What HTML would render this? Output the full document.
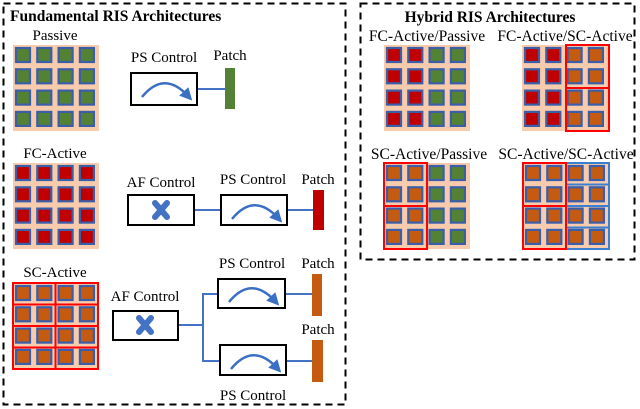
<!DOCTYPE html>
<html><head><meta charset="utf-8"><style>
html,body{margin:0;padding:0;background:#fff;width:640px;height:409px;overflow:hidden}
svg{display:block}
text{font-family:"Liberation Serif",serif;font-size:15px;fill:#000}
</style></head><body>
<svg id="s" width="640" height="409" xmlns="http://www.w3.org/2000/svg">
<defs>
<marker id="ah" markerWidth="5" markerHeight="5" refX="2.5" refY="2.5" orient="auto"><path d="M0,0 L5,2.5 L0,5z" fill="#3b6fc4"/></marker>
</defs>
<rect x="3.5" y="3.5" width="342" height="401" fill="none" stroke="#000" stroke-width="2" stroke-dasharray="7,5"/>
<rect x="360.5" y="3.5" width="274" height="256" fill="none" stroke="#000" stroke-width="2" stroke-dasharray="7,5"/>
<text x="10" y="21" font-weight="bold" style="font-size:15.5px">Fundamental RIS Architectures</text>
<text x="490" y="22" font-weight="bold" text-anchor="middle" style="font-size:15.5px">Hybrid RIS Architectures</text>
<text x="55" y="40" text-anchor="middle">Passive</text>
<text x="55" y="158" text-anchor="middle">FC-Active</text>
<text x="55" y="277" text-anchor="middle">SC-Active</text>
<text x="164" y="62" text-anchor="middle">PS Control</text>
<text x="230" y="60" text-anchor="middle">Patch</text>
<text x="161" y="187" text-anchor="middle">AF Control</text>
<text x="253" y="184" text-anchor="middle">PS Control</text>
<text x="318" y="184" text-anchor="middle">Patch</text>
<text x="145" y="301" text-anchor="middle">AF Control</text>
<text x="252" y="268" text-anchor="middle">PS Control</text>
<text x="318" y="268" text-anchor="middle">Patch</text>
<text x="318" y="334" text-anchor="middle">Patch</text>
<text x="253" y="400" text-anchor="middle">PS Control</text>
<text x="427" y="41" text-anchor="middle" style="font-size:15.5px">FC-Active/Passive</text>
<text x="565" y="41" text-anchor="middle" style="font-size:15.5px">FC-Active/SC-Active</text>
<text x="429" y="159" text-anchor="middle" style="font-size:15.5px">SC-Active/Passive</text>
<text x="566" y="159" text-anchor="middle" style="font-size:15.5px">SC-Active/SC-Active</text>
<g id="g"></g>
<g stroke="#4472c4" stroke-width="2" fill="none">
<line x1="197" y1="89" x2="225" y2="89"/>
<line x1="194" y1="210" x2="221" y2="210"/>
<line x1="287" y1="210" x2="313" y2="210"/>
<polyline points="178,325 203,325"/>
<polyline points="218,294 203,294 203,361 220,361"/>
<line x1="285" y1="294" x2="312" y2="294"/>
<line x1="286" y1="361" x2="312" y2="361"/>
</g>
<g stroke="#000" stroke-width="2" fill="#fff">
<rect x="131" y="73" width="66" height="32"/>
<rect x="128" y="195" width="66" height="30"/>
<rect x="221" y="195" width="66" height="30"/>
<rect x="113" y="311" width="65" height="29"/>
<rect x="218" y="279" width="67" height="29"/>
<rect x="220" y="345" width="66" height="30"/>
</g>
<rect x="225" y="68" width="10" height="41" fill="#548235"/>
<rect x="313" y="190" width="11" height="40" fill="#c00000"/>
<rect x="312" y="274" width="10" height="42" fill="#c55a11"/>
<rect x="312" y="340" width="11" height="42" fill="#c55a11"/>
<g fill="none" stroke="#3b6fc4" stroke-width="2.5">
<path d="M142,97 Q164,70 188,96" marker-end="url(#ah)"/>
<path d="M232,219 Q254,192 278,218" marker-end="url(#ah)"/>
<path d="M229,302 Q251,275 275,301" marker-end="url(#ah)"/>
<path d="M231,369 Q253,342 277,368" marker-end="url(#ah)"/>
</g>
<g stroke="#4472c4" stroke-width="6" stroke-linecap="round">
<line x1="155" y1="203" x2="167" y2="217"/><line x1="167" y1="203" x2="155" y2="217"/>
<line x1="139" y1="318" x2="151" y2="332"/><line x1="151" y1="318" x2="139" y2="332"/>
</g>
</svg>
<script>
var G='#548235',R='#c00000',O='#c55a11',g=document.getElementById('g'),h='';
function grid(x,y,cols){h+='<rect x="'+x+'" y="'+y+'" width="86" height="86" fill="#f8cbad"/>';
for(var r=0;r<4;r++)for(var c=0;c<4;c++){var cx=x+3+c*21.3,cy=y+3+r*21.3;
h+='<rect x="'+cx+'" y="'+cy+'" width="14" height="14" fill="'+cols[c]+'" stroke="#3b5ea8" stroke-width="2.2"/>';}}
function box(x,y,w,hh,col){h+='<rect x="'+x+'" y="'+y+'" width="'+w+'" height="'+hh+'" fill="none" stroke="'+col+'" stroke-width="2"/>';}
grid(13,45,[G,G,G,G]);grid(13,163,[R,R,R,R]);grid(13,283,[O,O,O,O]);
for(var r=0;r<4;r++){box(13,283+r*21.5,42.5,21.5,'#f00');box(55.5,283+r*21.5,42.5,21.5,'#f00');}
grid(384,45,[R,R,G,G]);grid(522,45,[R,R,O,O]);box(566,45,43,43,'#f00');box(566,88,43,43,'#f00');
grid(384,163,[O,O,G,G]);box(384,163,43,43,'#f00');box(384,206,43,43,'#f00');
grid(523,163,[O,O,O,O]);for(var r=0;r<4;r++)box(566,163+r*21.5,43,21.5,'#3b7fd0');
box(523,163,43,43,'#f00');box(523,206,43,43,'#f00');
g.innerHTML=h;
</script>
</body></html>
